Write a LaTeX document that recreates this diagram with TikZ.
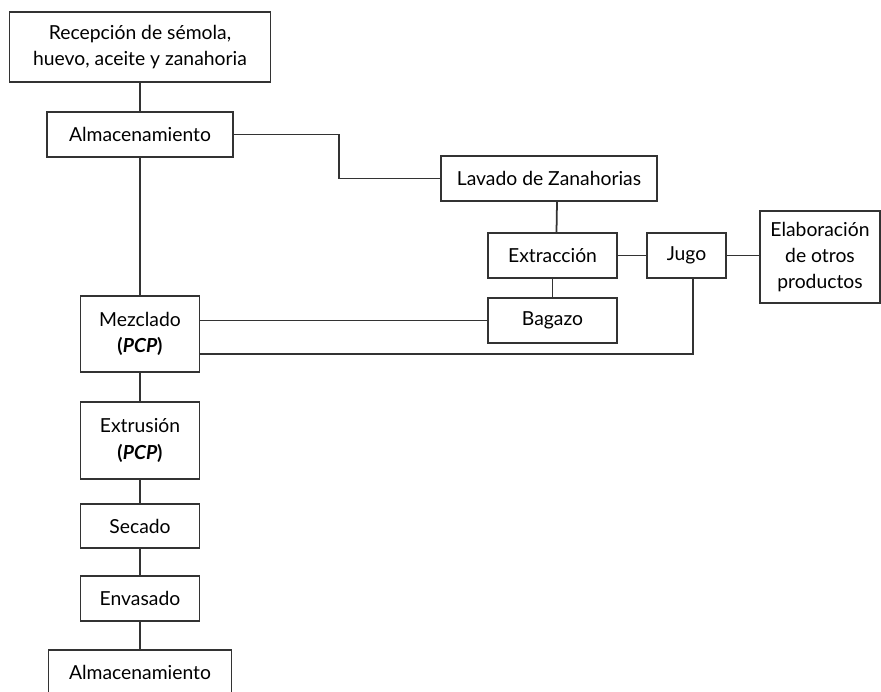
\documentclass[tikz,border=0pt]{standalone}
\usepackage{fontspec}
\setmainfont{Lato}
\usetikzlibrary{positioning}

\begin{document}
\begin{tikzpicture}[x=0.02cm,y=-0.02cm,line width=1pt,
  caja/.style={draw=black!80,rectangle,align=center,inner sep=2pt,font=\fontsize{11}{15}\selectfont},
  linea/.style={draw=black!80,line width=1pt}]
\useasboundingbox (0,0) rectangle (881,691);

% linea principal
\node[caja,minimum width=5.22cm,minimum height=1.4cm] (recepcion) at (140,47) {Recepción de sémola,\\huevo, aceite y zanahoria};
\node[caja,minimum width=3.72cm,minimum height=0.9cm] (alm) at (140,134.5) {Almacenamiento};
\node[caja,minimum width=2.38cm,minimum height=1.52cm] (mezclado) at (140,334) {Mezclado\\\textbf{(\textit{PCP})}};
\node[caja,minimum width=2.38cm,minimum height=1.54cm] (extrusion) at (140,440.5) {Extrusión\\\textbf{(\textit{PCP})}};
\node[caja,minimum width=2.38cm,minimum height=0.88cm] (secado) at (140,526) {Secado};
\node[caja,minimum width=2.38cm,minimum height=0.9cm] (envasado) at (140,598.5) {Envasado};
\node[caja,minimum width=3.66cm,minimum height=0.9cm] (almfinal) at (140,672.5) {Almacenamiento};

% zanahoria
\node[caja,minimum width=4.32cm,minimum height=0.9cm] (lavado) at (549,178.5) {Lavado de Zanahorias};
\node[caja,minimum width=2.58cm,minimum height=0.9cm] (extraccion) at (552.5,255.5) {Extracción};
\node[caja,minimum width=2.58cm,minimum height=0.9cm] (bagazo) at (552.5,320.5) {Bagazo};
\node[caja,minimum width=1.58cm,minimum height=0.9cm] (jugo) at (686.5,255.5) {Jugo};
\node[caja,minimum width=2.4cm,minimum height=1.84cm] (elaboracion) at (820,257) {Elaboración\\de otros\\productos};

\coordinate (codo) at (339,150);

\draw[linea] (recepcion) -- (alm);
\draw[linea] (alm) -- (mezclado);
\draw[linea] (mezclado) -- (extrusion);
\draw[linea] (extrusion) -- (secado);
\draw[linea] (secado) -- (envasado);
\draw[linea] (envasado) -- (almfinal);

\draw[linea] (alm.east) -| (codo) |- (lavado.west);
\draw[linea] ([xshift=0.16cm]lavado.south) -- ([xshift=0.08cm]extraccion.north);
\draw[linea] (extraccion) -- (bagazo);
\draw[linea] (extraccion) -- (jugo);
\draw[linea] (jugo.east) -- (jugo.east -| elaboracion.west);
\draw[linea] (bagazo.west) -- (bagazo.west -| mezclado.east);
\draw[linea] ([yshift=-0.4cm]mezclado.east) -| ([xshift=0.13cm]jugo.south);

\end{tikzpicture}
\end{document}
